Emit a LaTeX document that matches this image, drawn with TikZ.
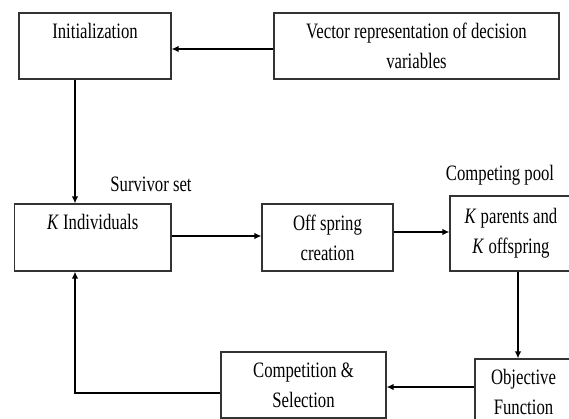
\documentclass[tikz,border=0pt]{standalone}
\usepackage{fontspec}
\setmainfont{Liberation Serif}[FakeStretch=0.76]
\usetikzlibrary{arrows.meta}
\begin{document}
\begin{tikzpicture}[x=1pt,y=1pt,
  box/.style={draw=black!80, line width=1.1pt, inner sep=0pt, align=center,
    font=\fontsize{22}{30}\selectfont},
  toptext/.style={text height=16pt, text depth=31pt},
  lbl/.style={inner sep=0pt, font=\fontsize{22}{29}\selectfont},
  conn/.style={draw=black, line width=1.8pt, -{Latex[length=7pt,width=6.5pt]}}]
\useasboundingbox (0,0) rectangle (569,-419);
\node[box, toptext, minimum width=152pt, minimum height=66pt] (init) at (95,-46) {Initialization};
\node[box, minimum width=285pt, minimum height=66pt] (vec) at (416.5,-46) {Vector representation of decision\\variables};
\node[box, toptext, minimum width=156.5pt, minimum height=67pt] (kind) at (92.75,-237.5) {\textit{K} Individuals};
\node[box, minimum width=131pt, minimum height=67pt] (off) at (327.5,-237.5) {Off spring\\creation};
\node[box, minimum width=122pt, minimum height=75pt] (kp) at (511,-233.5) {\textit{K} parents and\\\textit{K} offspring};
\node[box, minimum width=97pt, minimum height=66pt] (obj) at (523.5,-392) {Objective\\Function};
\node[box, minimum width=165pt, minimum height=66pt] (comp) at (303.5,-385) {Competition \&\\Selection};
\node[lbl] (surv) at (151,-184) {Survivor set};
\node[lbl] (pool) at (500,-175) {Competing pool};
\coordinate (c1) at (75,-393);
\draw[conn] (vec.west |- 0,-49) -- (init.east |- 0,-49);
\draw[conn] (init.south -| 75,0) -- (kind.north -| 75,0);
\draw[conn] (kind.east |- 0,-236) -- (off.west |- 0,-236);
\draw[conn] (off.east |- 0,-232) -- (kp.west |- 0,-232);
\draw[conn] (kp.south -| 518,0) -- (obj.north -| 518,0);
\draw[conn] (obj.west |- 0,-387) -- (comp.east |- 0,-387);
\draw[conn] (comp.west |- c1) -- (c1) -- (kind.south -| c1);
\end{tikzpicture}
\end{document}
